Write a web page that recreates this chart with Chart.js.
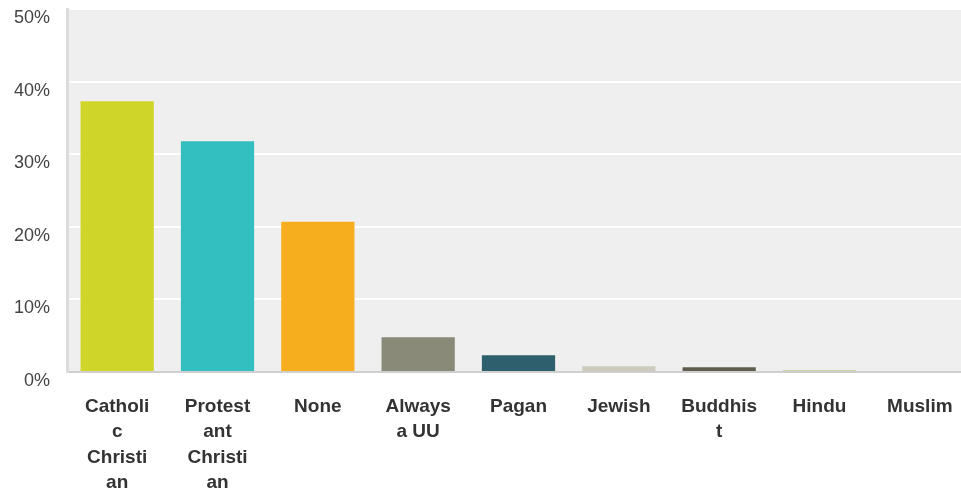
<!DOCTYPE html>
<html>
<head>
<meta charset="utf-8">
<script src="https://cdn.jsdelivr.net/npm/chart.js@4"></script>
<style>
  html, body { margin: 0; padding: 0; background: #fff; overflow: hidden; }
  #wrap { width: 970px; height: 494px; }
</style>
</head>
<body>
<div id="wrap"><canvas id="religion"></canvas></div>
<script>
// categories, wrapped the way the picture wraps them
var categories = [
  ['Catholi', 'c', 'Christi', 'an'],
  ['Protest', 'ant', 'Christi', 'an'],
  ['None'],
  ['Always', 'a UU'],
  ['Pagan'],
  ['Jewish'],
  ['Buddhis', 't'],
  ['Hindu'],
  ['Muslim']
];
var percents = [37.3, 31.8, 20.7, 4.8, 2.3, 0.8, 0.65, 0.2, 0];
var barColors = ['#d0d52a', '#33bec0', '#f7ae1e', '#8a8a78', '#2d5f6c', '#cdcbbd', '#5f5e4d', '#a5b35c', '#8a8a78'];
var yTicks = [0, 10, 20, 30, 40, 50];

// grey plot background
var plotBg = {
  id: 'plotBg',
  beforeDraw: function(chart) {
    var a = chart.chartArea, ctx = chart.ctx;
    ctx.save();
    ctx.fillStyle = '#efefef';
    ctx.fillRect(a.left, a.top, a.right - a.left, a.bottom - a.top);
    ctx.restore();
  }
};

var ctx = document.getElementById('religion');
new Chart(ctx, {
  type: 'bar',
  data: {
    labels: categories,
    datasets: [{
      data: percents,
      backgroundColor: barColors,
      borderWidth: 0,
      barPercentage: 0.73,
      categoryPercentage: 1
    }]
  },
  options: {
    responsive: true,
    maintainAspectRatio: false,
    animation: false,
    layout: { padding: { top: 9, right: 0, left: 0, bottom: 0 } },
    plugins: {
      legend: { display: false },
      tooltip: { enabled: false }
    },
    scales: {
      x: {
        grid: { display: false },
        border: { color: '#cfcfcf', width: 2 },
        ticks: {
          color: '#333',
          font: { family: 'Liberation Sans, Arial, sans-serif', size: 19, weight: 'bold', lineHeight: 1.34 },
          maxRotation: 0,
          autoSkip: false,
          padding: 14
        },
        afterFit: function(s) { s.height = 122; s.paddingLeft = 0; s.paddingRight = 0; }
      },
      y: {
        min: 0,
        max: 50,
        afterBuildTicks: function(s) { s.ticks = yTicks.map(function(v) { return { value: v }; }); },
        grid: { color: '#ffffff', lineWidth: 2, drawTicks: false },
        border: { color: '#dcdcdc', width: 3 },
        ticks: {
          color: '#444',
          font: { family: 'Liberation Sans, Arial, sans-serif', size: 18 },
          padding: 17,
          labelOffset: 9,
          callback: function(v) { return v + '%'; }
        },
        afterFit: function(s) { s.width = 67; s.paddingTop = 0; s.paddingBottom = 0; }
      }
    }
  },
  plugins: [plotBg]
});
</script>
</body>
</html>
